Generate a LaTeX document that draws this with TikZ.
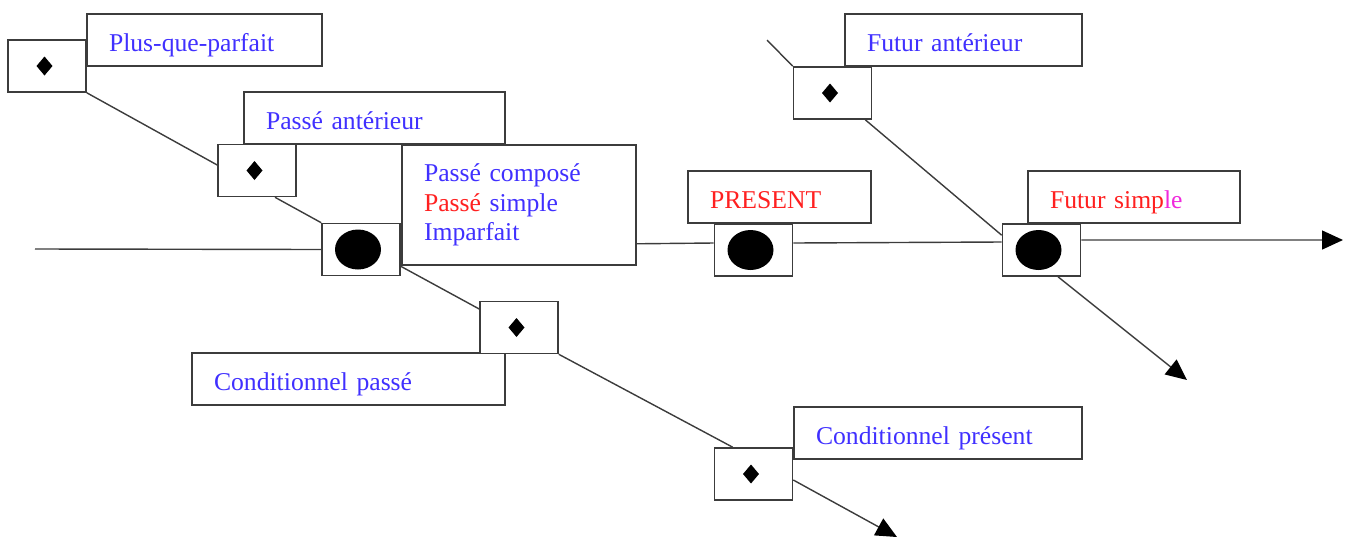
\documentclass[tikz,border=0pt]{standalone}
\usepackage{fontspec}
\setmainfont{Liberation Serif}
\usetikzlibrary{arrows.meta,calc}
\definecolor{tblue}{RGB}{64,48,255}
\definecolor{tred}{RGB}{255,32,32}
\definecolor{tmag}{RGB}{240,40,220}
\definecolor{edgec}{RGB}{60,60,60}
\begin{document}
\begin{tikzpicture}[x=0.02cm,y=-0.02cm,
 box/.style={draw=edgec, line width=0.9pt, fill=white},
 lab/.style={box, inner xsep=0.44cm, inner ysep=0pt, minimum height=1.04cm, align=left, font=\fontsize{14.6}{16.8}\selectfont, text=tblue},
 single/.style={text height=0.46cm, text depth=0.02cm},
 smallbox/.style={box, minimum width=1.56cm, minimum height=1.04cm, inner sep=0pt},
 diabox/.style={smallbox, path picture={\fill[black] ([xshift=-0.05cm]path picture bounding box.center) +(0,0.19cm) -- +(0.16cm,0) -- +(0,-0.19cm) -- +(-0.16cm,0) -- cycle;}},
 dotbox/.style={smallbox, path picture={\fill[black] ([xshift=-0.06cm]path picture bounding box.center) ellipse [x radius=0.46cm, y radius=0.4cm];}},
 conn/.style={draw=edgec, line width=0.8pt},
 arr/.style={conn, -{Triangle[length=0.42cm,width=0.38cm,color=black,fill=black]}}
]
\useasboundingbox (0,0) rectangle (1350,538);

% label boxes
\node[lab, single, text width=3.82cm] (lPQP) at (204.5,40) {Plus-que-parfait};
\node[lab, single, text width=4.34cm] (lPA) at (374.5,118) {Passé antérieur};
\node[lab, text width=3.80cm, minimum height=2.4cm] (lC) at (519,205) {Passé composé\\{\color{tred}Passé} simple\\Imparfait};
\node[lab, single, text width=5.38cm] (lCP) at (348.5,379) {Conditionnel passé};
\node[lab, single, text width=4.88cm] (lCPr) at (938,433) {Conditionnel présent};
\node[lab, single, text width=2.78cm, text=tred] (lPR) at (779.5,197) {PRESENT};
\node[lab, single, text width=3.36cm, text=tred] (lFS) at (1134,197) {Futur simp{\color{tmag}le}};
\node[lab, single, text width=3.86cm] (lFA) at (963.5,40) {Futur antérieur};

% small boxes
\node[diabox] (sPQP) at (47,66) {};
\node[diabox] (sPA) at (257,170.5) {};
\node[dotbox] (sC) at (361,249.5) {};
\node[diabox] (sCP) at (519,327.5) {};
\node[diabox] (sCPr) at (753.5,474) {};
\node[dotbox] (sPR) at (753.5,250) {};
\node[dotbox] (sFS) at (1041.5,250) {};
\node[diabox] (sFA) at (832.5,93) {};

% free ends
\coordinate (startL) at (35,249);
\coordinate (startFA) at (767,40);
\coordinate (tipR) at (1343,240);
\coordinate (tipFS) at (1187,380);
\coordinate (tipCP) at (897,537);

% connectors
\draw[conn] (sPQP.south east) -- ([yshift=0.11cm]sPA.west);
\draw[conn] ([xshift=0.36cm]sPA.south) -- (sC.north west);
\draw[conn] ([yshift=0.2cm]sC.south east) -- ([yshift=0.37cm]sCP.west);
\draw[conn] (sCP.south east) -- ([xshift=0.38cm]sCPr.north west);
\draw[arr] ([yshift=-0.12cm]sCPr.east) -- (tipCP);
\draw[conn] (startL) -- (sC.west);
\draw[conn] ([yshift=0.44cm]lC.south east) -- ([yshift=0.14cm]sPR.west);
\draw[conn] ([yshift=0.14cm]sPR.east) -- ([yshift=0.16cm]sFS.west);
\draw[arr] ([yshift=0.2cm]sFS.east) -- (tipR);
\draw[conn] (startFA) -- (sFA.north west);
\draw[conn] ([xshift=-0.14cm]sFA.south east) -- ([yshift=-0.24cm]sFS.north west);
\draw[arr] ([xshift=0.33cm]sFS.south) -- (tipFS);
\end{tikzpicture}
\end{document}
